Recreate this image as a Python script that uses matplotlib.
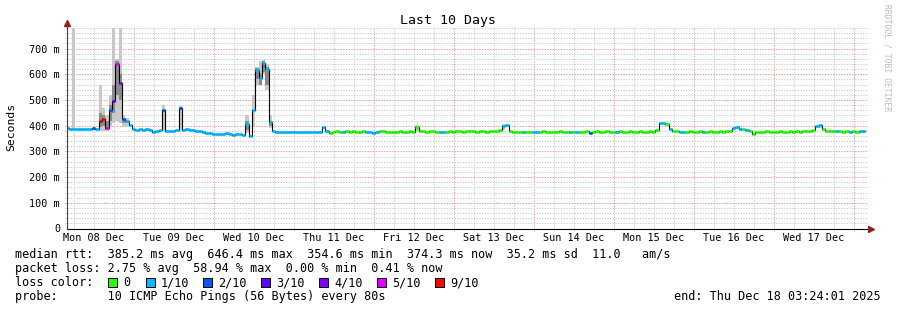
import matplotlib
matplotlib.use('Agg')
import matplotlib.pyplot as plt
from matplotlib.patches import Rectangle
import numpy as np

W, H = 897, 310
MONO = 'DejaVu Sans Mono'

# hourly median rtt (ms), first value = Mon 08 Dec 03:24
median_ms = [
    392, 386, 387, 386, 388, 387, 386, 388, 390, 386, 420, 425, 392, 462, 495, 640, 565, 425, 418, 402, 388, 385, 386, 384,
    386, 383, 375, 380, 385, 462, 380, 381, 380, 385, 467, 385, 386, 384, 385, 381, 378, 377, 373, 370, 368, 366, 366, 367,
    372, 366, 364, 367, 368, 363, 405, 358, 460, 616, 585, 645, 620, 415, 378, 377, 375, 376, 377, 375, 376, 376, 375, 376,
    377, 374, 376, 375, 376, 396, 378, 372, 376, 378, 375, 377, 379, 376, 378, 375, 377, 378, 376, 374, 373, 376, 378, 379,
    377, 375, 374, 377, 378, 376, 375, 378, 376, 395, 380, 378, 377, 379, 378, 376, 375, 374, 377, 378, 377, 378, 379, 377,
    378, 380, 378, 377, 379, 378, 377, 379, 378, 378, 385, 398, 403, 380, 377, 376, 377, 376, 375, 377, 374, 375, 377, 378,
    376, 375, 377, 376, 378, 377, 376, 375, 376, 377, 376, 377, 378, 370, 377, 378, 376, 377, 378, 377, 376, 377, 378, 376,
    377, 378, 376, 377, 378, 377, 376, 378, 377, 385, 410, 411, 408, 386, 380, 378, 377, 376, 377, 378, 376, 377, 378, 376,
    377, 378, 377, 376, 378, 377, 378, 380, 392, 395, 386, 387, 385, 378, 366, 376, 377, 376, 378, 377, 376, 377, 378, 377,
    376, 378, 377, 378, 377, 378, 379, 380, 385, 398, 402, 388, 380, 379, 378, 379, 378, 377, 378, 377, 378, 377, 381, 379,
]

# lost pings out of 10, one digit per hour
loss_digits = (
    "111111112199523542111111"
    "111112111121111111111111"
    "111111111111111111111111"
    "111111100001000000111100"
    "000000000000000011000000"
    "000000000001100001001100"
    "000000010100020000000100"
    "000000000011010011000001"
    "000000001110100000000000"
    "000000000110000100010011"
)
loss = [int(c) for c in loss_digits]

# smoke (spread of the 10 pings) where it shows: hour -> (low, high) ms
smoke_light = {2: (385, 779), 10: (380, 560), 11: (380, 470), 12: (378, 440), 13: (400, 520),
               14: (410, 779), 15: (420, 660), 16: (410, 779), 17: (395, 440), 18: (395, 430),
               29: (378, 480), 34: (380, 475), 54: (370, 440), 56: (400, 520), 57: (560, 630),
               58: (560, 650), 59: (600, 655), 60: (540, 640), 61: (390, 440), 105: (378, 402),
               131: (385, 405), 201: (388, 400), 226: (390, 405)}
smoke_dark = {10: (395, 450), 11: (400, 440), 12: (385, 420), 13: (420, 480), 14: (450, 560),
              15: (520, 650), 16: (500, 600), 17: (410, 430), 54: (385, 420), 57: (580, 625),
              58: (560, 600), 59: (610, 650), 60: (560, 630), 61: (400, 420)}

loss_levels = [0, 1, 2, 3, 4, 5, 9]
loss_labels = ['0', '1/10', '2/10', '3/10', '4/10', '5/10', '9/10']
loss_colors = ['#26ff00', '#00b8ff', '#0059ff', '#5e00ff', '#7e00ff', '#dd00ff', '#ff0000']
swatch_x = [108, 146, 203, 261, 319, 377, 435]

day_labels = ['Mon 08 Dec', 'Tue 09 Dec', 'Wed 10 Dec', 'Thu 11 Dec', 'Fri 12 Dec',
              'Sat 13 Dec', 'Sun 14 Dec', 'Mon 15 Dec', 'Tue 16 Dec', 'Wed 17 Dec']
first_midnight = 20.6  # hours from start to Tue 09 00:00

y_ticks = [0, 100, 200, 300, 400, 500, 600, 700]
y_tick_labels = ['0', '100 m', '200 m', '300 m', '400 m', '500 m', '600 m', '700 m']

legend_lines = [
    'median rtt:  385.2 ms avg  646.4 ms max  354.6 ms min  374.3 ms now  35.2 ms sd  11.0   am/s',
    'packet loss: 2.75 % avg  58.94 % max  0.00 % min  0.41 % now',
    'loss color:',
    'probe:       10 ICMP Echo Pings (56 Bytes) every 80s',
]
end_text = 'end: Thu Dec 18 03:24:01 2025'


def fx(x):
    return x / W


def fy(y):
    return 1 - y / H


fig = plt.figure(figsize=(W / 100, H / 100), dpi=100)
fig.patch.set_facecolor('white')
ax = fig.add_axes([fx(67), fy(228.5), 801 / W, 200.8 / H])
ax.set_xlim(0.5, 240.8)
ax.set_ylim(0, 781)
for s in ax.spines.values():
    s.set_visible(False)

# grid
minor_x = np.arange(first_midnight - 18, 241, 6)
for x in minor_x:
    major = abs((x - first_midnight) % 24) < 1e-6
    if x < 0.5:
        continue
    ax.axvline(x, ymin=-0.012, ymax=1, color='#f09a9a' if major else '#cdcdcd',
               lw=0.7, ls=(0, (1.4, 1.4)), zorder=0.5, clip_on=False)
for y in range(20, 781, 20):
    major = y % 100 == 0
    ax.axhline(y, xmin=-0.003, xmax=1, color='#f09a9a' if major else '#cdcdcd',
               lw=0.7, ls=(0, (1.4, 1.4)), zorder=0.5, clip_on=False)

# smoke
for h, (lo, hi) in smoke_light.items():
    ax.bar(h, hi - lo, bottom=lo, width=1, align='edge', color='#c8c8c8', lw=0, zorder=2)
for h, (lo, hi) in smoke_dark.items():
    ax.bar(h, hi - lo, bottom=lo, width=1, align='edge', color='#8a8a8a', lw=0, zorder=2.5)

# median line coloured by loss
t = np.arange(len(median_ms))
ax.step(np.r_[t, len(t)], np.r_[median_ms, median_ms[-1]], where='post',
        color='black', lw=0.8, zorder=3)
color_of = dict(zip(loss_levels, loss_colors))
ax.hlines(median_ms, t, t + 1, colors=[color_of[l] for l in loss], lw=2.0, zorder=4)

# axes with arrows
ax.plot([0, 1.004], [0, 0], transform=ax.transAxes, color='black', lw=0.8, clip_on=False, zorder=5)
ax.plot([1.004], [0], transform=ax.transAxes, marker='>', ms=4, color='#9b1c1c', clip_on=False, zorder=6)
ax.plot([0, 0], [0, 1.022], transform=ax.transAxes, color='#444444', lw=0.8, clip_on=False, zorder=5)
ax.plot([0], [1.022], transform=ax.transAxes, marker='^', ms=4, color='#9b1c1c', clip_on=False, zorder=6)

ax.set_xticks(first_midnight - 12 + 24 * np.arange(len(day_labels)), day_labels)
ax.set_yticks(y_ticks, y_tick_labels)
ax.tick_params(axis='both', length=0, labelsize=7.3)
ax.tick_params(axis='x', pad=3.5)
ax.tick_params(axis='y', pad=5)
for lab in ax.get_xticklabels() + ax.get_yticklabels():
    lab.set_family(MONO)

# titles
fig.text(fx(448), fy(24), 'Last 10 Days', ha='center', va='baseline', fontsize=9.5, family=MONO)
fig.text(fx(11), fy(127), 'Seconds', rotation=90, ha='center', va='center', fontsize=8.2, family=MONO)
fig.text(fx(887), fy(4), 'RRDTOOL / TOBI OETIKER', rotation=270, ha='center', va='top',
         fontsize=5.8, color='#bbbbbb', family=MONO)

# legend
for i, line in enumerate(legend_lines):
    fig.text(fx(15), fy(258 + 14 * i), line, ha='left', va='baseline', fontsize=8.5, family=MONO)
for sx, lab, c in zip(swatch_x, loss_labels, loss_colors):
    fig.add_artist(Rectangle((fx(sx), fy(287)), 9 / W, 9 / H, transform=fig.transFigure,
                             facecolor=c, edgecolor='black', lw=0.7))
    fig.text(fx(sx + 15), fy(286), lab, ha='left', va='baseline', fontsize=8.5, family=MONO)
fig.text(fx(881), fy(300), end_text, ha='right', va='baseline', fontsize=8.5, family=MONO)

fig.savefig('out.png', dpi=100, facecolor='white')
